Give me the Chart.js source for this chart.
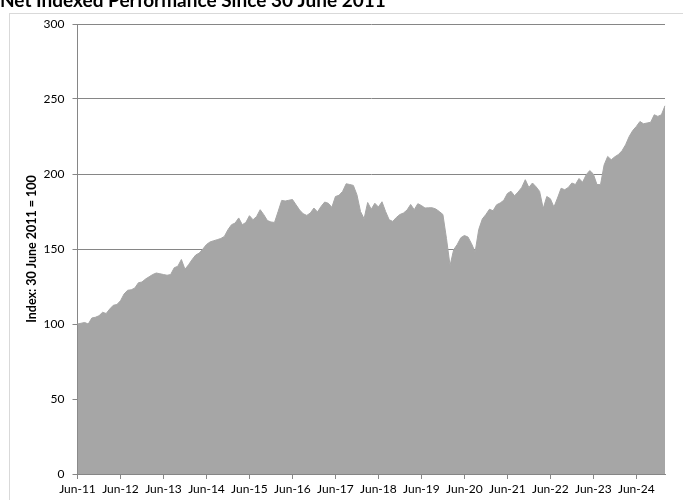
<!DOCTYPE html>
<html>
<head>
<meta charset="utf-8">
<script src="https://cdn.jsdelivr.net/npm/chart.js@4.4.1/dist/chart.umd.min.js"></script>
<style>
  body { margin: 0; background: #fff; overflow: hidden; }
  #wrap { position: relative; width: 683px; height: 500px; }
  #frame { position: absolute; left: 9px; top: 13px; width: 700px; height: 520px; border: 1px solid #d9d9d9; }
  canvas { position: absolute; left: 0; top: 0; }
</style>
</head>
<body>
<div id="wrap">
  <div id="frame"></div>
  <canvas id="myChart" width="683" height="500"></canvas>
</div>
<script>
const chartTitle = 'Net Indexed Performance Since 30 June 2011';
const yTitle = 'Index: 30 June 2011 = 100';
const tickLabels = ['Jun-11', 'Jun-12', 'Jun-13', 'Jun-14', 'Jun-15', 'Jun-16', 'Jun-17',
    'Jun-18', 'Jun-19', 'Jun-20', 'Jun-21', 'Jun-22', 'Jun-23', 'Jun-24'];
const monthNames = ['Jan', 'Feb', 'Mar', 'Apr', 'May', 'Jun', 'Jul', 'Aug', 'Sep', 'Oct', 'Nov', 'Dec'];

// monthly index values, Jun-11 onwards
const indexValues = [
    100, 100.5, 101, 100, 104, 104.5, 105.5, 107.8, 107, 110, 112.5, 113,
    115.5, 120, 122.5, 122.8, 124, 127.5, 128, 130, 131.5, 133, 134, 133.5,
    133, 132.5, 133, 137.5, 138.5, 143, 136.5, 139.5, 143, 146, 147.3, 150,
    153, 154.7, 155.5, 156.2, 157, 158.4, 162.9, 166.2, 167.3, 170.7, 166.2, 167.7,
    172.2, 169.5, 171.7, 176.2, 172.9, 169, 168, 167.7, 175, 182.4, 182, 182.5,
    183, 179.5, 176, 173.5, 172.4, 174, 177.3, 174.7, 178.4, 181.3, 180.5, 177.8,
    185, 185.8, 188.4, 193.5, 193, 192.4, 186.2, 175, 170.2, 181, 176.5, 180.5,
    178, 181.5, 175, 169.5, 168.4, 171, 173, 174, 176, 179.7, 176.2, 180.2,
    179, 177.3, 177.5, 177.5, 176.7, 175, 173, 157, 139, 149.5, 153, 157.5,
    159, 158, 153.5, 148, 163, 170, 173, 176.5, 175.5, 179.5, 180.7, 182.5,
    187, 188.5, 185.5, 188, 191, 196.2, 191, 194, 191.5, 188.4, 177, 185,
    183.5, 178, 184, 190.5, 189.5, 191, 194, 193, 197, 194.5, 199.5, 202.3,
    200, 193, 192.9, 206, 211.7, 209.5, 211.5, 213, 215.5, 219.5, 225, 229,
    231.7, 235, 233.5, 234, 234.5, 239.5, 238.4, 239.5, 245.5
];

const months = indexValues.map((v, i) => {
    const m = (5 + i) % 12;
    const y = 11 + Math.floor((5 + i) / 12);
    return monthNames[m] + '-' + y;
});

const gridGrey = '#868686';
const areaGrey = '#a6a6a6';
const font = 'Lato';

const ctx = document.getElementById('myChart');
const chart = new Chart(ctx, {
    type: 'line',
    data: {
        labels: months,
        datasets: [{
            data: indexValues,
            backgroundColor: areaGrey,
            borderColor: areaGrey,
            borderWidth: 1,
            pointRadius: 0,
            tension: 0,
            fill: 'origin'
        }]
    },
    options: {
        responsive: false,
        animation: false,
        layout: { padding: { left: 0, right: 18, top: 0, bottom: 0 } },
        plugins: {
            legend: { display: false },
            tooltip: { enabled: false },
            title: {
                display: true,
                text: chartTitle,
                align: 'start',
                color: '#000',
                font: { family: font, size: 19, weight: 'bold' },
                padding: { top: -10.2, bottom: 11.4 }
            }
        },
        scales: {
            x: {
                offset: false,
                grid: { drawOnChartArea: false, drawTicks: true, tickLength: 5, color: gridGrey },
                border: { display: true, color: gridGrey },
                ticks: {
                    autoSkip: false,
                    maxRotation: 0,
                    padding: 3,
                    color: '#000',
                    font: { family: font, size: 12 },
                    callback: (val, i) => (i % 12 === 0 ? tickLabels[i / 12] : null)
                },
                afterFit: (s) => { s.height = 26; }
            },
            y: {
                min: 0,
                max: 300,
                grid: { color: gridGrey, tickLength: 5 },
                border: { display: true, color: gridGrey },
                ticks: {
                    stepSize: 50,
                    padding: 8,
                    color: '#000',
                    font: { family: font, size: 12 }
                },
                title: {
                    display: true,
                    text: yTitle,
                    color: '#000',
                    font: { family: font, size: 12.5, weight: 'bold' },
                    padding: { top: 24.5, bottom: 0 }
                },
                afterFit: (s) => { s.width = 77.5; }
            }
        }
    }
});
</script>
</body>
</html>
